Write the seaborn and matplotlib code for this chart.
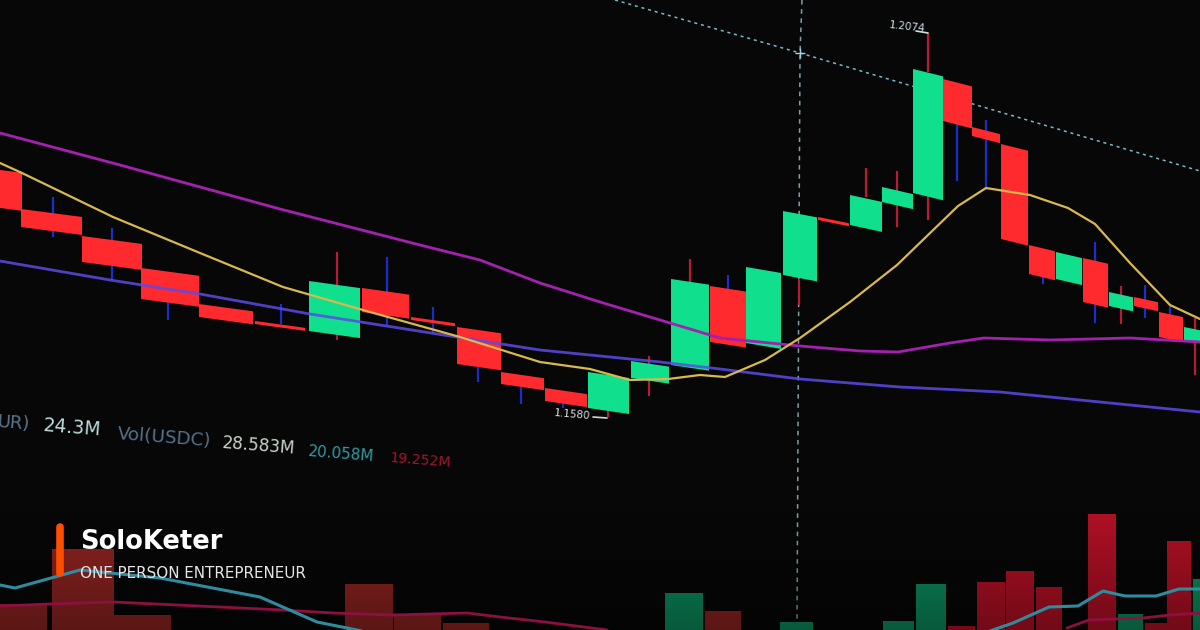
import matplotlib
matplotlib.use("Agg")
import matplotlib.pyplot as plt
import seaborn as sns
import numpy as np

# All series in its own 1200x630 frame (y grows downward)
up = "up"
down = "down"

# candles: left/right edge, body top and bottom measured at the left edge
candle_dir = [down, down, down, down, down, down, up, down, down, down, down, down, up, up, up, down,
              up, up, down, up, up, up, down, down, down, down, up, down, up, down, down, up]
candle_left = [-38, 21, 82, 141, 199, 255, 309, 362, 411, 457, 501, 545, 588, 631, 671, 710,
               746, 783, 818, 850, 882, 913, 943, 972, 1001, 1029, 1056, 1083, 1109, 1134, 1159, 1184]
candle_right = [22, 82, 142, 199, 253, 305, 360, 409, 455, 501, 544, 587, 629, 669, 709, 746,
                781, 817, 849, 882, 913, 943, 972, 1000, 1028, 1055, 1082, 1108, 1133, 1158, 1183, 1210]
candle_top = [165, 209, 236, 268, 304, 321, 281, 288, 317, 327, 372, 388, 372, 361, 279, 286,
              267, 211, 217, 195, 187, 69, 79, 127, 144, 245, 252, 258, 292, 297, 312, 327]
candle_bottom = [203, 227, 262, 299, 317, 324, 331, 312, 320, 364, 384, 401, 408, 378, 365, 342,
                 343, 275, 220, 225, 202, 193, 121, 136, 239, 274, 279, 302, 306, 306, 337, 340]

# wicks: x, y start, y end
wick_up_x = [337, 337, 608, 649, 690, 799, 866, 897, 928, 928, 1121, 1195]
wick_up_start = [252, 330, 405, 356, 259, 280, 168, 171, 33, 190, 286, 318]
wick_up_end = [285, 340, 417, 396, 285, 305, 197, 227, 72, 220, 324, 375]
wick_down_x = [53, 112, 168, 281, 387, 433, 478, 521, 563, 728, 957, 986, 1043, 1095, 1145, 1170]
wick_down_start = [197, 228, 300, 304, 257, 307, 365, 385, 400, 275, 120, 120, 270, 242, 285, 306]
wick_down_end = [237, 280, 320, 324, 325, 333, 382, 404, 408, 290, 181, 187, 284, 323, 318, 320]

# moving averages on the price pane
ma_slow_x = [0, 60, 120, 200, 280, 350, 420, 480, 540, 600, 660, 720, 800, 860, 898, 950, 984, 1050, 1130, 1200]
ma_slow_y = [133, 149, 165, 187, 209, 227, 245, 260, 283, 302, 320, 338, 346, 351, 352, 343, 338, 340, 338, 342]
ma_fast_x = [0, 22, 113, 200, 283, 370, 460, 540, 590, 630, 668, 700, 725, 765, 800, 850, 897, 958, 986, 1030, 1068, 1095, 1130, 1170, 1200]
ma_fast_y = [163, 173, 217, 253, 287, 312, 337, 362, 369, 380, 379, 375, 377, 360, 338, 302, 265, 206, 188, 195, 208, 224, 263, 305, 319]
ma_long_x = [0, 110, 200, 310, 450, 540, 600, 660, 720, 800, 900, 1000, 1100, 1200]
ma_long_y = [261, 280, 294, 314, 336, 350, 356, 362, 369, 379, 387, 392, 402, 412]

# crosshair
cross_diag_x = [615, 800, 1200]
cross_diag_y = [0, 53, 171]
cross_vert_x = [802, 800, 797]
cross_vert_y = [0, 53, 622]

# volume pane
vol_left = [-10, 52, 114, 345, 394, 443, 665, 705, 780, 883, 916, 948, 977, 1006, 1036, 1088, 1118, 1145, 1167, 1193]
vol_right = [47, 114, 171, 393, 441, 489, 703, 741, 813, 914, 946, 975, 1005, 1034, 1062, 1116, 1143, 1168, 1191, 1210]
vol_top = [604, 549, 615, 584, 615, 623, 593, 611, 622, 621, 584, 626, 582, 571, 587, 514, 614, 623, 541, 579]
vol_kind = ["old", "old", "old", "old", "old", "old", up, "old", up, up, up, down, down, down, down, down, up, down, down, up]

vol_ma_x = [0, 15, 80, 160, 260, 317, 367]
vol_ma_y = [585, 588, 570, 578, 597, 622, 632]
vol_ma2_x = [987, 1013, 1049, 1078, 1103, 1125, 1156, 1179, 1200]
vol_ma2_y = [632, 623, 607, 606, 591, 596, 596, 589, 589]
vol_slow_x = [0, 50, 113, 283, 333, 393, 467, 500, 545, 607]
vol_slow_y = [606, 604, 602, 610, 613, 615, 613, 617, 622, 630]
vol_slow2_x = [1067, 1089, 1143, 1170, 1200]
vol_slow2_y = [628, 620, 618, 615, 613]

# readout row
readout_labels = ["UR)", "24.3M", "Vol(USDC)", "28.583M", "20.058M", "19.252M"]
readout_x = [-3, 43, 117, 222, 308, 389]
readout_y = [427, 431, 439, 448, 456, 462]
readout_sizes = [13, 13.6, 13.2, 12.2, 11, 10.2]
readout_colors = ["#5a7488", "#bcdada", "#55708a", "#c9d3c9", "#2b9ea6", "#a3152e"]

BG = "#070707"
GREEN = "#10e08e"
RED = "#ff2a2e"
BLUE_WICK = "#1a2fc8"
RED_WICK = "#b81c34"

sns.set_theme(style="dark", rc={"axes.facecolor": BG, "figure.facecolor": BG})
plt.rcParams["font.family"] = ["DejaVu Sans"]

fig = plt.figure(figsize=(12, 6.3), dpi=100)
ax = fig.add_axes([0, 0, 1, 1])

# Crosshair sits behind everything
ax.plot(cross_diag_x, cross_diag_y, color="#7db6c9", lw=1.1, ls=(0, (2, 2.5)), zorder=1)
ax.plot(cross_vert_x, cross_vert_y, color="#7f9fa8", lw=1.1, ls=(0, (3, 3)), zorder=1)
ax.plot([cross_vert_x[1]], [cross_vert_y[1]], marker="+", ms=7, mew=1, color="#9fd0dc", zorder=1)

# Wicks
ax.vlines(wick_up_x, wick_up_start, wick_up_end, color=RED_WICK, lw=1.6, zorder=2)
ax.vlines(wick_down_x, wick_down_start, wick_down_end, color=BLUE_WICK, lw=1.6, zorder=2)

# Candles lean because the screen was photographed at an angle
for d, l, r, t, b in zip(candle_dir, candle_left, candle_right, candle_top, candle_bottom):
    skew = np.interp(l, [0, 700, 950, 1200], [0.13, 0.15, 0.26, 0.2])
    drop = (r - l) * skew
    ax.fill([l, r, r, l], [t, t + drop, b + drop, b], color=GREEN if d == up else RED, lw=0, zorder=3)

# Volume bars
vol_colors = {"old": "#8c2320", up: "#0c8a5c", down: "#b01024"}
for kind, l, r, t in zip(vol_kind, vol_left, vol_right, vol_top):
    ax.bar(l, 640 - t, width=r - l, bottom=t, align="edge", color=vol_colors[kind], lw=0, zorder=2)

# Bars fade toward the bottom of the screen
fade = np.zeros((64, 2, 4))
fade[:, :, 3] = np.linspace(0, 0.35, 64)[:, None]
ax.imshow(fade, extent=(0, 1200, 630, 510), aspect="auto", zorder=2.5)

# Moving averages
sns.lineplot(x=ma_slow_x, y=ma_slow_y, ax=ax, color="#a321ae", lw=2, sort=False, estimator=None, zorder=4)
sns.lineplot(x=ma_long_x, y=ma_long_y, ax=ax, color="#5b4ae6", lw=2, alpha=0.85, sort=False, estimator=None, zorder=4)
sns.lineplot(x=ma_fast_x, y=ma_fast_y, ax=ax, color="#d9b84c", lw=1.6, sort=False, estimator=None, zorder=5)

for xs, ys in [(vol_slow_x, vol_slow_y), (vol_slow2_x, vol_slow2_y)]:
    sns.lineplot(x=xs, y=ys, ax=ax, color="#8c1040", lw=2, sort=False, estimator=None, zorder=4)
for xs, ys in [(vol_ma_x, vol_ma_y), (vol_ma2_x, vol_ma2_y)]:
    sns.lineplot(x=xs, y=ys, ax=ax, color="#2f8c9e", lw=2.2, sort=False, estimator=None, zorder=5)

# Price callouts
ax.text(889, 25, "1.2074", color="#cfe0e4", fontsize=7.5, rotation=-6, va="center", rotation_mode="anchor", zorder=6)
ax.plot([916, 928], [31, 33], color="#cfe0e4", lw=1.2, zorder=6)
ax.text(554, 413, "1.1580", color="#d5dfdf", fontsize=7.5, rotation=-5, va="center", rotation_mode="anchor", zorder=6)
ax.plot([593, 607], [417, 418], color="#cfd8d8", lw=1.2, zorder=6)

# Readout row
for label, x, y, s, c in zip(readout_labels, readout_x, readout_y, readout_sizes, readout_colors):
    ax.text(x, y, label, color=c, fontsize=s, rotation=-4.5, rotation_mode="anchor", zorder=6)

# Brand overlay
ax.plot([59.5, 59.5], [527, 573], color="#ff4d00", lw=5.5, solid_capstyle="round", zorder=7)
ax.text(80, 549, "SoloKeter", color="white", fontsize=18.5, fontweight="bold", zorder=7)
ax.text(80, 578, "ONE PERSON ENTREPRENEUR", color="#e6e6e6", fontsize=10.9, zorder=7)

ax.set_xlim(0, 1200)
ax.set_ylim(630, 0)
ax.axis("off")

fig.savefig("out.png", dpi=100, facecolor=BG)
